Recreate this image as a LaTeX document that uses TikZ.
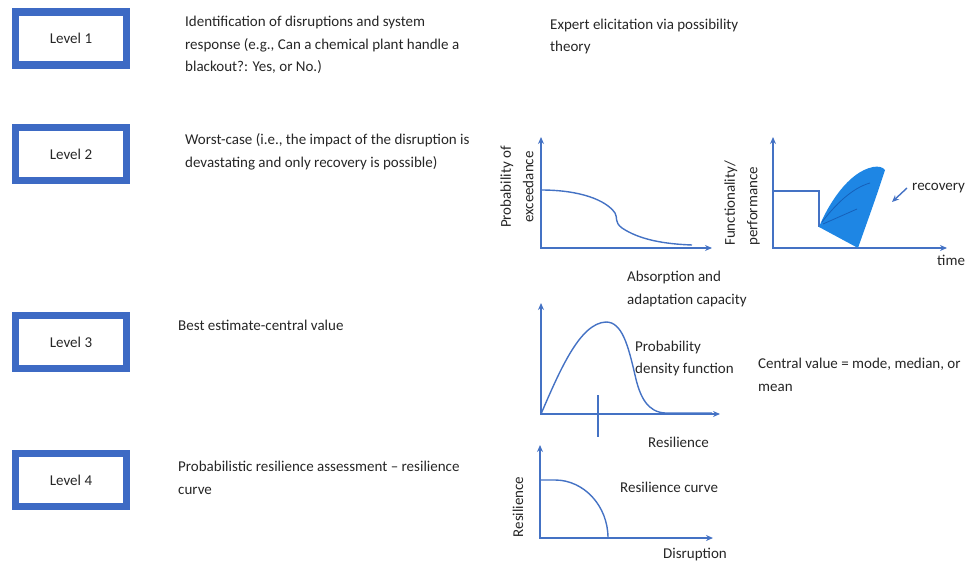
\documentclass[tikz,border=0pt]{standalone}
\usepackage{fontspec}
\setmainfont{Carlito}
\usepackage{xcolor}
\usetikzlibrary{arrows.meta}
\definecolor{lvlblue}{RGB}{61,106,196}
\definecolor{axisblue}{RGB}{68,114,196}
\definecolor{fillblue}{RGB}{30,134,228}
\definecolor{darkfill}{RGB}{22,96,186}
\definecolor{txtgray}{RGB}{38,38,38}

\begin{document}
\begin{tikzpicture}[x=1pt,y=-1pt,
    every node/.style={font=\fontsize{15}{22.5}\selectfont,text=txtgray},
    lvl/.style={draw=lvlblue,line width=7.5pt,minimum width=111pt,minimum height=53pt,inner sep=0pt},
    desc/.style={anchor=west,align=left,inner sep=0pt},
    axis/.style={axisblue,line width=1.4pt,{Stealth[length=7pt,width=6pt]}-{Stealth[length=7pt,width=6pt]}},
    curve/.style={axisblue,line width=1.4pt},
    ptr/.style={axisblue,line width=1.4pt,-{Stealth[length=7pt,width=6pt]}}]
    \useasboundingbox (0,0) rectangle (966,562);
    \node[lvl] (L1) at (71,38.5) {Level 1};
    \node[lvl] (L2) at (71,154) {Level 2};
    \node[lvl] (L3) at (71,342) {Level 3};
    \node[lvl] (L4) at (71,480) {Level 4};
    \node[desc] (D1) at (185,45) {Identification of disruptions and system\\response (e.g., Can a chemical plant handle a\\blackout?: Yes, or No.)};
    \node[desc] (E1) at (550,36.5) {Expert elicitation via possibility\\theory};
    \node[desc] (D2) at (185,152) {Worst-case (i.e., the impact of the disruption is\\devastating and only recovery is possible)};
    \node[desc] (D3) at (178,325) {Best estimate-central value};
    \node[desc] (D4) at (178,478) {Probabilistic resilience assessment -- resilience\\curve};
    \coordinate (O1) at (541,248);
    \coordinate (Y1) at (541,137);
    \coordinate (X1) at (712,248);
    \draw[axis] (Y1) -- (O1) -- (X1);
    \draw[curve] (541,190) .. controls (580,190) and (606,200) .. (615,213)
      .. controls (618,218) and (614,222) .. (622,228)
      .. controls (640,240) and (665,244) .. (692,245);
    \node[rotate=90,align=center,inner sep=0pt] (PE) at (517,187) {Probability of\\exceedance};
    \node[desc] (AC) at (627,289) {Absorption and\\adaptation capacity};
    \coordinate (O2) at (773,248);
    \coordinate (Y2) at (773,137);
    \coordinate (X2) at (947,248);
    \draw[axis] (Y2) -- (O2) -- (X2);
    \draw[curve] (773,191) -- (819,191) -- (819,227);
    \fill[fillblue] (819,227) .. controls (828,205) and (848,172) .. (873,167)
      .. controls (878,166) and (883,167) .. (885,170)
      .. controls (876,198) and (866,225) .. (858,248) -- cycle;
    \draw[darkfill,line width=0.8pt] (822,222) .. controls (835,205) and (852,188) .. (870,183);
    \draw[darkfill,line width=0.8pt] (823,224) -- (857,209);
    \node[rotate=90,anchor=west,align=left,inner sep=0pt] (FP) at (742,246) {Functionality/\\performance};
    \node[desc] (rec) at (912,188) {recovery};
    \coordinate (recTip) at (892,202);
    \draw[ptr] ([xshift=-5pt]rec.west) -- (recTip);
    \node[desc] (T2) at (937,260) {time};
    \coordinate (O3) at (541,414);
    \coordinate (Y3) at (541,303);
    \coordinate (X3) at (720,414);
    \draw[axis] (Y3) -- (O3) -- (X3);
    \draw[curve] (O3) .. controls (560,370) and (580,323) .. (606,322)
      .. controls (622,322) and (628,345) .. (635,375)
      .. controls (640,398) and (648,412) .. (665,413) -- (712,413);
    \coordinate (M0) at (598,395);
    \coordinate (M1) at (598,437);
    \draw[axisblue,line width=1.2pt] (M0) -- (M1);
    \node[desc] (PD) at (635,358.5) {Probability\\density function};
    \node[desc] (CV) at (758,375) {Central value = mode, median, or\\mean};
    \node[desc] (R3) at (648,442) {Resilience};
    \coordinate (O4) at (540,538);
    \coordinate (Y4) at (540,445);
    \coordinate (X4) at (713,538);
    \draw[axis] (Y4) -- (O4) -- (X4);
    \draw[curve] (540,480) -- (555,480) .. controls (584,480) and (608,506) .. (608,538);
    \node[rotate=90,inner sep=0pt] (R4) at (518,507) {Resilience};
    \node[desc] (RC) at (620,487) {Resilience curve};
    \node[desc] (DR) at (663,555) {Disruption};
\end{tikzpicture}
\end{document}
